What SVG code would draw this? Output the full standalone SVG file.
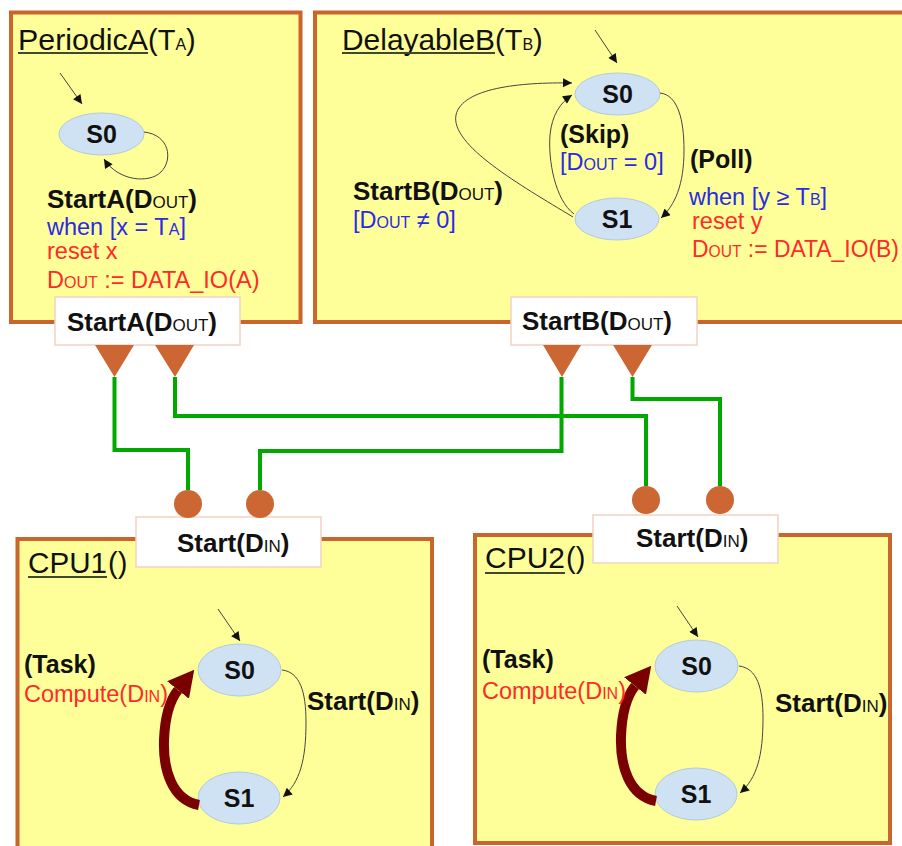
<svg xmlns="http://www.w3.org/2000/svg" width="902" height="846" viewBox="0 0 902 846">
  <style>
    text { font-family: "Liberation Sans", Arial, sans-serif; fill: #111; }
    .title { font-size: 29px; }
    .lbl { font-size: 26px; font-weight: bold; }
    .tr { font-size: 25px; font-weight: bold; }
    .sm { font-size: 17px; font-weight: normal; }
    .sm2 { font-size: 16px; }
    .reg { font-size: 23.5px; }
    .blue { fill: #2a2ae6; }
    .red { fill: #ff2a2a; }
    .st { font-size: 25px; font-weight: bold; text-anchor: middle; }
    .box { fill: #ffff99; stroke: #c9652f; stroke-width: 4; }
    .port { fill: #ffffff; stroke: #f2d2c2; stroke-width: 1.5; }
    .state { fill: #cfe2f3; stroke: #b2cade; stroke-width: 1; }
    .uline { stroke: #3f4a2a; stroke-width: 2; }
    .edge { fill: none; stroke: #444; stroke-width: 1; marker-end: url(#tip); }
    .task { fill: none; stroke: #7a0000; stroke-width: 10; marker-end: url(#bigtip); }
    .pin { fill: #cc6633; }
    .wire { fill: none; stroke: #00a800; stroke-width: 4; }
  </style>
  <defs>
    <marker id="tip" viewBox="0 0 10 10" refX="10" refY="5" markerWidth="11" markerHeight="9" markerUnits="userSpaceOnUse" orient="auto">
      <path d="M0,0 L10,5 L0,10 z" fill="#111"/>
    </marker>
    <marker id="bigtip" viewBox="0 0 26 28" refX="0" refY="14" markerWidth="26" markerHeight="28" markerUnits="userSpaceOnUse" orient="auto">
      <path d="M0,0 L26,14 L0,28 z" fill="#7a0000"/>
    </marker>
  </defs>

  <!-- PeriodicA automaton -->
  <g id="periodicA">
    <rect class="box" x="11" y="12.5" width="289.5" height="309.5"/>
    <text class="title" x="18" y="50" textLength="130" lengthAdjust="spacingAndGlyphs">PeriodicA</text>
    <text class="title" x="148" y="50">(T<tspan class="sm2">A</tspan>)</text>
    <line class="uline" x1="18" y1="53" x2="148" y2="53"/>
    <path class="edge" d="M60,73 L82,104"/>
    <ellipse class="state" cx="101.5" cy="134" rx="42.5" ry="21"/>
    <text class="st" x="101.5" y="143">S0</text>
    <path class="edge" d="M144,132 C170,135 173,160 161,172 C149,184 118,181 104,159"/>
    <text class="lbl" x="47" y="208">StartA(D<tspan class="sm">OUT</tspan>)</text>
    <text class="reg blue" x="47" y="235">when [x = T<tspan class="sm2">A</tspan>]</text>
    <text class="reg red" x="47" y="259">reset x</text>
    <text class="reg red" x="47" y="288">D<tspan class="sm2">OUT</tspan> := DATA_IO(A)</text>
  </g>

  <!-- DelayableB automaton -->
  <g id="delayableB">
    <rect class="box" x="315" y="12.5" width="620" height="309.5"/>
    <text class="title" x="342" y="50" textLength="153" lengthAdjust="spacingAndGlyphs">DelayableB</text>
    <text class="title" x="495" y="50">(T<tspan class="sm2">B</tspan>)</text>
    <line class="uline" x1="342" y1="53" x2="495" y2="53"/>
    <path class="edge" d="M595,30 L617,63"/>
    <ellipse class="state" cx="617.5" cy="94" rx="42.5" ry="21"/>
    <ellipse class="state" cx="617" cy="219" rx="42" ry="21"/>
    <text class="st" x="617.5" y="103">S0</text>
    <text class="st" x="617" y="228">S1</text>
    <path class="edge" d="M573,217 C520,185 450,145 456,115 C462,88 520,82 572,83"/>
    <path class="edge" d="M574,214 C555,200 548,160 550,135 C552,115 560,103 572,95"/>
    <path class="edge" d="M660,93 C678,95 684,120 684,150 C684,185 675,205 661,218"/>
    <text class="tr" x="560" y="143">(Skip)</text>
    <text class="reg blue" x="560" y="170">[D<tspan class="sm2">OUT</tspan> = 0]</text>
    <text class="lbl" x="353" y="200">StartB(D<tspan class="sm">OUT</tspan>)</text>
    <text class="reg blue" x="353" y="228">[D<tspan class="sm2">OUT</tspan> ≠ 0]</text>
    <text class="tr" x="690" y="168">(Poll)</text>
    <text class="reg blue" x="689" y="205">when [y ≥ T<tspan class="sm2">B</tspan>]</text>
    <text class="reg red" x="692" y="229">reset y</text>
    <text class="reg red" x="692" y="257" textLength="207" lengthAdjust="spacingAndGlyphs">D<tspan class="sm2">OUT</tspan> := DATA_IO(B)</text>
  </g>

  <!-- CPU1 automaton -->
  <g id="cpu1">
    <rect class="box" x="17.5" y="539" width="414.5" height="330"/>
    <text class="title" x="28" y="573" textLength="79" lengthAdjust="spacingAndGlyphs">CPU1</text>
    <text class="title" x="108" y="573">()</text>
    <line class="uline" x1="28" y1="577" x2="107" y2="577"/>
    <path class="edge" d="M218,609 L240,641"/>
    <ellipse class="state" cx="239.5" cy="670" rx="41.5" ry="26"/>
    <ellipse class="state" cx="239" cy="798" rx="41" ry="26"/>
    <text class="st" x="239.5" y="679">S0</text>
    <text class="st" x="239" y="807">S1</text>
    <path class="edge" d="M282,670 C300,672 306,692 306,722 C306,760 300,782 283,797"/>
    <path class="task" d="M199,805 C172,800 163,770 164,740 C165,715 170,700 178,690"/>
    <text class="tr" x="24" y="673">(Task)</text>
    <text class="reg red" x="24" y="702">Compute(D<tspan class="sm2">IN</tspan>)</text>
    <text class="lbl" x="307" y="710">Start(D<tspan class="sm">IN</tspan>)</text>
  </g>

  <!-- CPU2 automaton -->
  <g id="cpu2">
    <rect class="box" x="475" y="535" width="415" height="308"/>
    <text class="title" x="485" y="568" textLength="80" lengthAdjust="spacingAndGlyphs">CPU2</text>
    <text class="title" x="566" y="568">()</text>
    <line class="uline" x1="485" y1="573" x2="565" y2="573"/>
    <path class="edge" d="M677,606 L698,637"/>
    <ellipse class="state" cx="696.5" cy="666" rx="41.5" ry="26"/>
    <ellipse class="state" cx="696" cy="794" rx="41" ry="26"/>
    <text class="st" x="696.5" y="675">S0</text>
    <text class="st" x="696" y="803">S1</text>
    <path class="edge" d="M739,666 C757,668 763,688 763,718 C763,756 757,778 740,793"/>
    <path class="task" d="M656,801 C629,796 620,766 621,736 C622,711 627,696 635,686"/>
    <text class="tr" x="482" y="668">(Task)</text>
    <text class="reg red" x="482" y="699">Compute(D<tspan class="sm2">IN</tspan>)</text>
    <text class="lbl" x="775" y="712">Start(D<tspan class="sm">IN</tspan>)</text>
  </g>

  <!-- Output and input ports -->
  <g id="port-startA">
    <rect class="port" x="55" y="297" width="185" height="48"/>
    <text class="lbl" x="67" y="331">StartA(D<tspan class="sm">OUT</tspan>)</text>
    <polygon class="pin" points="95,345 134,345 114.5,377"/>
    <polygon class="pin" points="155,345 194,345 175,377"/>
  </g>
  <g id="port-startB">
    <rect class="port" x="511" y="297" width="186" height="48"/>
    <text class="lbl" x="522" y="330">StartB(D<tspan class="sm">OUT</tspan>)</text>
    <polygon class="pin" points="543,345 581,345 562,377"/>
    <polygon class="pin" points="613,345 652,345 632.5,377"/>
  </g>
  <g id="port-cpu1">
    <rect class="port" x="136" y="517" width="185" height="50"/>
    <text class="lbl" x="177" y="552">Start(D<tspan class="sm">IN</tspan>)</text>
    <circle class="pin" cx="188" cy="504" r="14"/>
    <circle class="pin" cx="260" cy="504" r="14"/>
  </g>
  <g id="port-cpu2">
    <rect class="port" x="593" y="515" width="185" height="48"/>
    <text class="lbl" x="636" y="547">Start(D<tspan class="sm">IN</tspan>)</text>
    <circle class="pin" cx="646" cy="500" r="14"/>
    <circle class="pin" cx="720" cy="500" r="14"/>
  </g>

  <!-- Wires between ports -->
  <g id="connectors">
    <path class="wire" d="M114.5,377 V450 H188 V490"/>
    <path class="wire" d="M175,377 V416 H646 V486"/>
    <path class="wire" d="M561.5,377 V451 H260 V490"/>
    <path class="wire" d="M632.5,377 V399 H720 V486"/>
  </g>
</svg>
